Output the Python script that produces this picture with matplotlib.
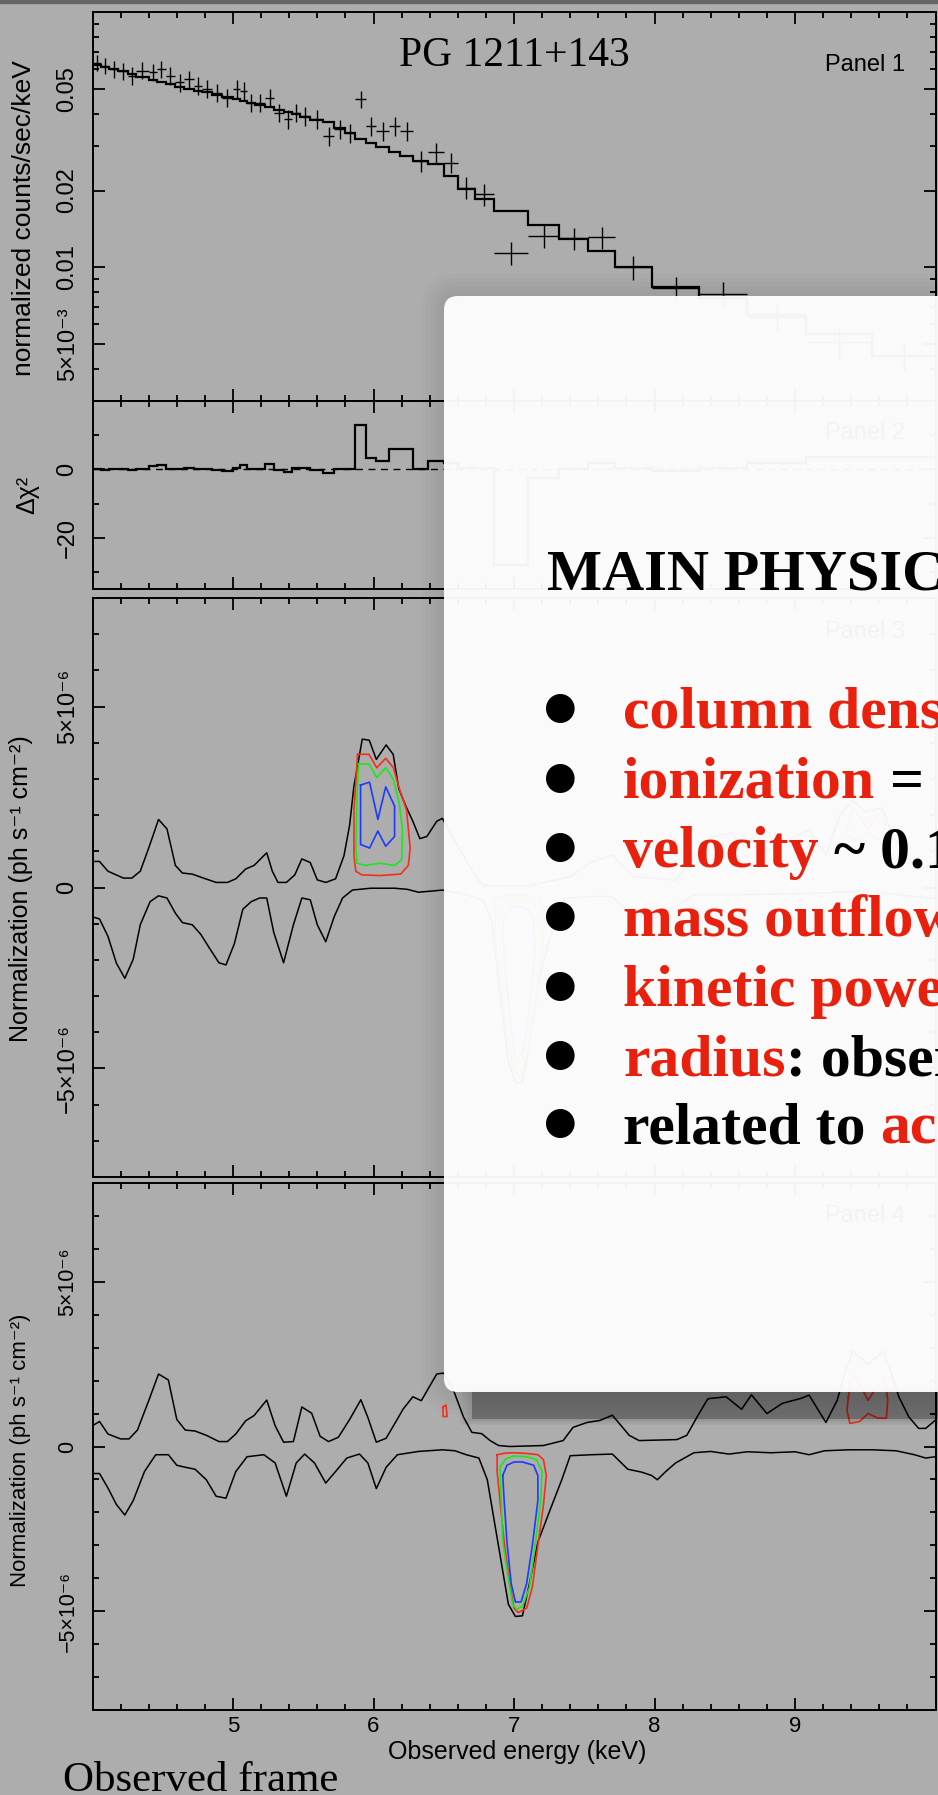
import numpy as np
import matplotlib
matplotlib.use("Agg")
from matplotlib import pyplot as plt
from matplotlib.patches import FancyBboxPatch, Rectangle
from matplotlib.ticker import FixedLocator, FixedFormatter, MultipleLocator, NullFormatter

# ---------------- panel 1 : spectrum ----------------
bin_edges = [4.00, 4.06, 4.12, 4.18, 4.25, 4.31, 4.40, 4.46, 4.52, 4.59, 4.65, 4.72, 4.78,
             4.85, 4.92, 5.00, 5.05, 5.10, 5.16, 5.23, 5.29, 5.36, 5.42, 5.48, 5.55, 5.64,
             5.72, 5.80, 5.87, 5.95, 6.02, 6.11, 6.19, 6.28, 6.39, 6.50, 6.60, 6.72, 6.86,
             7.10, 7.32, 7.53, 7.72, 7.98, 8.32, 8.66, 9.08, 9.55, 10.0]
flux = [0.0634, 0.0615, 0.0597, 0.0588, 0.0562, 0.0590, 0.0580, 0.0597, 0.0562, 0.0530,
        0.0546, 0.0514, 0.0500, 0.0484, 0.0462, 0.0500, 0.0491, 0.0442, 0.0442, 0.0462,
        0.0404, 0.0380, 0.0404, 0.0392, 0.0380, 0.0327, 0.0348, 0.0337, 0.0456, 0.0358,
        0.0342, 0.0358, 0.0342, 0.0261, 0.0282, 0.0257, 0.0205, 0.0193, 0.0114, 0.0133,
        0.0130, 0.0131, 0.0100, 0.0083, 0.0079, 0.0064, 0.0051, 0.0045]
flux_err = [0.0045, 0.0045, 0.0045, 0.0045, 0.0045, 0.0045, 0.0045, 0.0045, 0.0045, 0.0042,
            0.0042, 0.0042, 0.0040, 0.0040, 0.0038, 0.0040, 0.0040, 0.0036, 0.0036, 0.0037,
            0.0034, 0.0032, 0.0034, 0.0033, 0.0032, 0.0029, 0.0030, 0.0029, 0.0036, 0.0030,
            0.0029, 0.0030, 0.0029, 0.0024, 0.0025, 0.0023, 0.0020, 0.0019, 0.0012, 0.0014,
            0.0013, 0.0013, 0.0011, 0.0009, 0.0009, 0.0008, 0.0007, 0.0006]
model = [0.0621, 0.0610, 0.0597, 0.0585, 0.0570, 0.0557, 0.0544, 0.0532, 0.0521, 0.0510,
         0.0501, 0.0491, 0.0485, 0.0475, 0.0465, 0.0457, 0.0448, 0.0441, 0.0431, 0.0423,
         0.0414, 0.0405, 0.0397, 0.0388, 0.0379, 0.0370, 0.0353, 0.0337, 0.0318, 0.0308,
         0.0295, 0.0284, 0.0273, 0.0262, 0.0253, 0.0228, 0.0202, 0.0185, 0.0166, 0.0147,
         0.0129, 0.0116, 0.0100, 0.0084, 0.0076, 0.0065, 0.0055, 0.0045]

# ---------------- panel 2 : delta chi^2 ----------------
dchi = [0.2, -0.1, 0.2, 0.2, -0.3, 0.2, 0.9, 1.2, 0.2, 0.0, 0.5, 0.2, 0.2, -0.1, -0.6, 0.5,
        1.4, 0.2, 0.2, 1.7, -0.1, -0.8, 0.5, 0.3, -0.1, -1.0, 0.2, 0.2, 13.1, 3.3, 2.5, 5.9,
        5.9, 0.0, 2.4, 1.8, 0.3, 0.3, -28.0, -2.4, 0.0, 1.8, 0.3, -0.6, 0.3, 1.8, 3.5, 3.5]

# ---------------- panel 3 : line scan (units 1e-6 ph/s/cm2) ----------------
p3_up_e = [4.00, 4.05, 4.11, 4.22, 4.28, 4.34, 4.40, 4.47, 4.53, 4.59, 4.64, 4.71, 4.79, 4.88,
           4.96, 5.02, 5.09, 5.15, 5.24, 5.28, 5.32, 5.38, 5.44, 5.49, 5.55, 5.60, 5.66, 5.73,
           5.79, 5.83, 5.86, 5.92, 5.97, 6.02, 6.09, 6.14, 6.18, 6.23, 6.28, 6.33, 6.38, 6.45,
           6.49, 6.55, 6.71, 6.78, 7.11, 7.40, 7.55, 7.70, 7.85, 8.15, 8.30, 8.40, 8.55, 8.65,
           8.72, 8.80, 8.95, 9.10, 9.22, 9.32, 9.41, 9.50, 9.62, 9.70, 9.80, 9.90, 10.0]
p3_up_n = [0.72, 0.72, 0.45, 0.26, 0.26, 0.45, 1.09, 1.88, 1.62, 0.61, 0.40, 0.37, 0.26, 0.14,
           0.14, 0.24, 0.51, 0.61, 0.96, 0.45, 0.14, 0.14, 0.35, 0.79, 0.69, 0.21, 0.14, 0.24,
           0.88, 1.72, 2.78, 4.10, 4.07, 3.54, 3.94, 3.68, 2.73, 2.25, 1.83, 1.35, 1.41, 1.83,
           1.91, 1.50, 0.41, 0.05, 0.05, 0.30, 0.70, 0.90, 0.30, 0.20, 0.90, 1.40, 1.50, 1.10,
           1.50, 1.00, 1.30, 1.60, 0.90, 2.00, 2.40, 2.10, 2.20, 1.40, 0.80, 0.50, 0.70]
p3_lo_e = [4.00, 4.05, 4.11, 4.17, 4.23, 4.29, 4.34, 4.41, 4.47, 4.53, 4.59, 4.64, 4.71, 4.77,
           4.83, 4.90, 4.95, 5.01, 5.07, 5.13, 5.19, 5.24, 5.29, 5.36, 5.43, 5.49, 5.55, 5.60,
           5.66, 5.72, 5.78, 5.85, 5.98, 6.15, 6.24, 6.32, 6.41, 6.49, 6.66, 6.78, 6.84, 6.90,
           6.96, 7.01, 7.06, 7.11, 7.18, 7.27, 7.36, 7.55, 7.70, 7.82, 7.98, 8.08, 8.28, 8.60,
           9.00, 9.20, 9.50, 9.85, 10.0]
p3_lo_n = [-0.81, -0.87, -1.35, -2.09, -2.51, -1.98, -1.03, -0.39, -0.23, -0.29, -0.71, -0.97,
           -1.03, -1.29, -1.66, -2.08, -2.14, -1.55, -0.60, -0.39, -0.29, -0.29, -1.24, -2.08,
           -1.03, -0.29, -0.34, -1.03, -1.50, -0.81, -0.29, -0.07, -0.02, -0.02, -0.05, -0.13,
           -0.10, -0.07, -0.20, -0.35, -0.90, -2.90, -4.80, -5.40, -5.40, -4.30, -2.50, -1.20,
           -0.30, -0.25, -0.25, -0.70, -0.90, -0.70, -0.20, -0.20, -0.17, -0.15, -0.10, -0.25,
           -0.30]
# confidence contours (red 68%, green 90%, blue 99%)
p3_red_e = [5.887, 5.968, 6.023, 6.087, 6.142, 6.184, 6.235, 6.261, 6.248, 6.193, 6.044, 5.917,
            5.874, 5.861, 5.861]
p3_red_n = [3.68, 3.68, 3.31, 3.57, 3.31, 2.73, 2.15, 1.09, 0.61, 0.37, 0.33, 0.35, 0.45, 0.88,
            2.15]
p3_grn_e = [5.895, 5.968, 6.023, 6.087, 6.142, 6.184, 6.206, 6.201, 6.150, 6.044, 5.938, 5.883,
            5.874, 5.883]
p3_grn_n = [3.41, 3.41, 3.04, 3.31, 2.99, 2.30, 1.62, 0.77, 0.61, 0.67, 0.61, 0.67, 1.09, 2.57]
p3_blu_e = [5.908, 5.972, 6.031, 6.087, 6.150, 6.150, 6.087, 6.031, 5.972, 5.908]
p3_blu_n = [2.83, 2.91, 1.88, 2.78, 2.25, 1.41, 1.14, 1.56, 1.09, 1.19]
p3_red2_e = [6.86, 6.92, 7.00, 7.10, 7.18, 7.22, 7.20, 7.15, 7.10, 7.05, 7.00, 6.96, 6.91, 6.87]
p3_red2_n = [-0.30, -0.22, -0.20, -0.22, -0.30, -0.80, -1.80, -3.20, -4.50, -5.20, -5.10, -4.30,
             -3.00, -1.60]
p3_grn2_e = [6.89, 6.95, 7.02, 7.10, 7.16, 7.19, 7.17, 7.12, 7.07, 7.02, 6.98, 6.93, 6.90]
p3_grn2_n = [-0.50, -0.32, -0.30, -0.34, -0.50, -1.00, -2.20, -3.60, -4.70, -5.00, -4.50, -3.20,
             -1.60]
p3_blu2_e = [6.92, 6.97, 7.03, 7.10, 7.14, 7.15, 7.11, 7.06, 7.01, 6.97, 6.93]
p3_blu2_n = [-0.90, -0.58, -0.52, -0.62, -0.90, -1.80, -3.40, -4.60, -4.70, -3.60, -1.90]
p3_red3_e = [9.37, 9.41, 9.47, 9.52, 9.57, 9.62, 9.64, 9.60, 9.52, 9.44, 9.38]
p3_red3_n = [1.60, 2.20, 1.90, 1.60, 1.90, 2.10, 1.70, 1.30, 1.50, 1.30, 1.40]

# ---------------- panel 4 : line scan (units 1e-6 ph/s/cm2) ----------------
p4_up_e = [4.00, 4.05, 4.11, 4.20, 4.26, 4.32, 4.40, 4.47, 4.54, 4.60, 4.66, 4.73, 4.81, 4.90,
           4.96, 5.02, 5.09, 5.15, 5.24, 5.30, 5.36, 5.43, 5.49, 5.56, 5.62, 5.68, 5.75, 5.83,
           5.91, 5.96, 6.02, 6.09, 6.16, 6.21, 6.28, 6.34, 6.45, 6.50, 6.57, 6.64, 6.70, 6.77,
           6.83, 6.89, 6.97, 7.21, 7.35, 7.42, 7.52, 7.61, 7.70, 7.82, 7.89, 8.16, 8.23, 8.31,
           8.38, 8.51, 8.62, 8.69, 8.80, 8.91, 9.05, 9.10, 9.22, 9.30, 9.36, 9.41, 9.52, 9.63,
           9.68, 9.74, 9.81, 9.88, 9.93, 10.0]
p4_up_n = [0.63, 0.76, 0.38, 0.23, 0.23, 0.50, 1.39, 2.20, 2.02, 0.82, 0.50, 0.47, 0.34, 0.15,
           0.15, 0.38, 0.78, 0.94, 1.41, 0.63, 0.13, 0.15, 1.20, 1.01, 0.31, 0.15, 0.28, 0.82,
           1.42, 0.88, 0.13, 0.25, 0.76, 1.13, 1.51, 1.39, 2.20, 2.23, 1.70, 0.90, 0.43, 0.39,
           0.18, 0.03, 0.00, 0.03, 0.18, 0.58, 0.73, 0.79, 0.95, 0.34, 0.18, 0.21, 0.34, 0.95,
           1.45, 1.51, 1.13, 1.57, 1.00, 1.31, 1.47, 1.56, 0.73, 1.40, 2.30, 2.90, 2.50, 2.90,
           2.30, 1.50, 0.90, 0.55, 0.55, 0.80]
p4_lo_e = [4.00, 4.05, 4.11, 4.17, 4.23, 4.29, 4.37, 4.45, 4.54, 4.60, 4.66, 4.73, 4.81, 4.88,
           4.95, 5.02, 5.10, 5.22, 5.30, 5.38, 5.45, 5.51, 5.58, 5.66, 5.73, 5.81, 5.90, 5.96,
           6.02, 6.09, 6.17, 6.32, 6.49, 6.58, 6.66, 6.75, 6.81, 6.85, 6.91, 6.96, 7.01, 7.06,
           7.11, 7.17, 7.26, 7.34, 7.40, 7.55, 7.70, 7.81, 7.91, 7.98, 8.02, 8.08, 8.15, 8.28,
           8.40, 8.53, 8.66, 8.83, 9.00, 9.10, 9.21, 9.38, 9.55, 9.72, 9.85, 9.93, 10.0]
p4_lo_n = [-0.82, -0.82, -1.26, -1.76, -2.08, -1.64, -0.76, -0.25, -0.25, -0.57, -0.63, -0.69,
           -1.01, -1.51, -1.57, -0.76, -0.31, -0.25, -0.50, -1.51, -0.50, -0.23, -0.50, -1.11,
           -0.76, -0.35, -0.23, -0.50, -1.28, -0.63, -0.25, -0.15, -0.10, -0.13, -0.25, -0.35,
           -1.01, -2.02, -3.53, -4.79, -5.16, -5.14, -4.16, -2.90, -1.89, -1.01, -0.28, -0.25,
           -0.23, -0.69, -0.78, -0.88, -1.01, -0.76, -0.50, -0.19, -0.15, -0.23, -0.16, -0.19,
           -0.16, -0.25, -0.13, -0.10, -0.10, -0.13, -0.25, -0.35, -0.31]
p4_red_e = [6.88, 6.94, 7.00, 7.09, 7.17, 7.21, 7.23, 7.21, 7.17, 7.13, 7.09, 7.03, 7.00, 6.97,
            6.93, 6.90, 6.88]
p4_red_n = [-0.25, -0.20, -0.19, -0.21, -0.25, -0.40, -0.88, -1.76, -3.02, -4.28, -4.91, -5.04,
            -4.91, -4.16, -2.90, -1.64, -0.76]
p4_grn_e = [6.90, 6.94, 7.00, 7.09, 7.16, 7.20, 7.19, 7.15, 7.11, 7.06, 7.02, 6.99, 6.96, 6.92,
            6.91]
p4_grn_n = [-0.63, -0.38, -0.29, -0.31, -0.40, -0.76, -1.64, -3.02, -4.28, -4.85, -4.94, -4.79,
            -4.03, -2.90, -1.64]
p4_blu_e = [6.92, 6.95, 7.00, 7.06, 7.14, 7.17, 7.17, 7.13, 7.09, 7.05, 7.01, 6.98, 6.95, 6.93]
p4_blu_n = [-0.88, -0.57, -0.47, -0.47, -0.57, -0.88, -1.64, -3.02, -4.16, -4.72, -4.72, -4.16,
            -2.90, -1.64]
p4_red2_e = [6.495, 6.516, 6.524, 6.495]
p4_red2_n = [1.20, 1.26, 0.91, 0.91]
p4_red3_e = [9.38, 9.40, 9.46, 9.52, 9.58, 9.64, 9.66, 9.65, 9.59, 9.52, 9.46, 9.39, 9.37]
p4_red3_n = [1.50, 2.20, 1.90, 1.40, 1.80, 2.10, 1.40, 0.86, 0.86, 1.00, 0.76, 0.70, 1.10]

panel_names = ["Panel 1", "Panel 2", "Panel 3", "Panel 4"]

# slide text in the white box
slide_title = "MAIN PHYSIC"
slide_lines = [
    [("column dens", "red")],
    [("ionization", "red"), (" = 1", "black")],
    [("velocity", "red"), (" ~ 0.1", "black")],
    [("mass outflow", "red")],
    [("kinetic powe", "red")],
    [("radius", "red"), (": obser", "black")],
    [("related to ", "black"), ("acc", "red")],
]

# ---------------- layout ----------------
W, H = 938, 1795
GRAY = '#adadad'
RED = '#e8210f'
C_RED, C_GRN, C_BLU = '#f2301b', '#1ee61e', '#1a3cff'
SANS = ['Liberation Sans', 'DejaVu Sans']
SERIF = ['Liberation Serif', 'DejaVu Serif']

plt.rcParams['font.family'] = SANS
plt.rcParams['axes.linewidth'] = 1.4


def fx(px):
    return px / W


def fy(py):
    return 1 - py / H


def axes_box(top, bottom):
    return [fx(92.5), fy(bottom), fx(935.5) - fx(92.5), (bottom - top) / H]


fig = plt.figure(figsize=(W / 100, H / 100), dpi=100, facecolor=GRAY)
ax1 = fig.add_axes(axes_box(12, 401))
ax2 = fig.add_axes(axes_box(401, 589))
ax3 = fig.add_axes(axes_box(598, 1177))
ax4 = fig.add_axes(axes_box(1183, 1710))
axes = [ax1, ax2, ax3, ax4]

for ax in axes:
    ax.set_facecolor('none')
    ax.set_xlim(4, 10)
    ax.xaxis.set_major_locator(FixedLocator([5, 6, 7, 8, 9]))
    ax.xaxis.set_minor_locator(MultipleLocator(0.2))
    ax.tick_params(which='both', direction='in', top=True, right=True, width=1.3, colors='k')
    ax.tick_params(which='major', length=8.6)
    ax.tick_params(which='minor', length=4.2)
    ax.tick_params(axis='y', labelrotation=90, pad=10)
    if ax is not ax4:
        ax.tick_params(labelbottom=False)

# panel 1
edges = np.array(bin_edges)
centres = 0.5 * (edges[1:] + edges[:-1])
half_w = 0.5 * (edges[1:] - edges[:-1])
ax1.set_yscale('log')
ax1.set_ylim(0.003, 0.1)
ax1.errorbar(centres, flux, xerr=half_w, yerr=flux_err, fmt='none', ecolor='k', elinewidth=1.0)
ax1.stairs(model, edges, baseline=None, color='k', lw=1.6)
ax1.yaxis.set_major_locator(FixedLocator([0.005, 0.01, 0.02, 0.05]))
ax1.yaxis.set_major_formatter(FixedFormatter(['5×10⁻³', '0.01', '0.02', '0.05']))
ax1.yaxis.set_minor_locator(FixedLocator([0.003, 0.004, 0.006, 0.007, 0.008, 0.009, 0.03,
                                          0.04, 0.06, 0.07, 0.08, 0.09]))
ax1.yaxis.set_minor_formatter(NullFormatter())
ax1.text(0.5, 0.888, "PG 1211+143", transform=ax1.transAxes, ha='center', va='center',
         fontsize=30, family=SERIF)

# panel 2
ax2.set_ylim(-35, 20)
ax2.stairs(dchi, edges, baseline=None, color='k', lw=1.6)
ax2.axhline(0, color='k', lw=1.0, ls=(0, (5, 4)))
ax2.yaxis.set_major_locator(FixedLocator([-20, 0]))
ax2.yaxis.set_major_formatter(FixedFormatter(['−20', '0']))
ax2.yaxis.set_minor_locator(FixedLocator([-30, -10, 10]))

# panels 3 and 4
U = 1e-6


def closed(e, n):
    return np.append(e, e[0]), np.append(n, n[0]) * U


for ax, up_e, up_n, lo_e, lo_n in [(ax3, p3_up_e, p3_up_n, p3_lo_e, p3_lo_n),
                                   (ax4, p4_up_e, p4_up_n, p4_lo_e, p4_lo_n)]:
    ax.set_ylim(-8e-6, 8e-6)
    ax.plot(up_e, np.array(up_n) * U, color='k', lw=1.1)
    ax.plot(lo_e, np.array(lo_n) * U, color='k', lw=1.1)
    ax.yaxis.set_major_locator(FixedLocator([-5e-6, 0, 5e-6]))
    ax.yaxis.set_major_formatter(FixedFormatter(['−5×10⁻⁶', '0', '5×10⁻⁶']))
    ax.yaxis.set_minor_locator(MultipleLocator(1e-6))

contours3 = [(p3_red_e, p3_red_n, C_RED), (p3_grn_e, p3_grn_n, C_GRN), (p3_blu_e, p3_blu_n, C_BLU),
             (p3_red2_e, p3_red2_n, C_RED), (p3_grn2_e, p3_grn2_n, C_GRN),
             (p3_blu2_e, p3_blu2_n, C_BLU), (p3_red3_e, p3_red3_n, C_RED)]
contours4 = [(p4_red_e, p4_red_n, C_RED), (p4_grn_e, p4_grn_n, C_GRN), (p4_blu_e, p4_blu_n, C_BLU),
             (p4_red2_e, p4_red2_n, C_RED), (p4_red3_e, p4_red3_n, C_RED)]
for ax, cset in [(ax3, contours3), (ax4, contours4)]:
    for e, n, c in cset:
        xe, yn = closed(e, n)
        ax.plot(xe, yn, color=c, lw=1.2)

# tick label sizes / alignment
for ax, fs in [(ax1, 17), (ax2, 17), (ax3, 17), (ax4, 15.5)]:
    ax.tick_params(axis='y', labelsize=fs)
    plt.setp(ax.get_yticklabels(), va='center')
ax4.tick_params(axis='x', labelsize=16, pad=4.5)

# panel names
for ax, name, yy in zip(axes, panel_names, [0.864, 0.83, 0.941, 0.937]):
    ax.text(0.964, yy, name, transform=ax.transAxes, ha='right', va='center', fontsize=17)

# axis labels
fig.text(fx(24), fy(218), "normalized counts/sec/keV", rotation=90, ha='center', va='center',
         fontsize=19)
fig.text(fx(27), fy(495), "Δχ²", rotation=90, ha='center', va='center', fontsize=18)
fig.text(fx(21), fy(889), "Normalization (ph s⁻¹ cm⁻²)", rotation=90, ha='center',
         va='center', fontsize=18)
fig.text(fx(21), fy(1450), "Normalization (ph s⁻¹ cm⁻²)", rotation=90, ha='center',
         va='center', fontsize=16)
fig.text(fx(517), fy(1752), "Observed energy (keV)", ha='center', va='center', fontsize=18)
fig.text(fx(63), fy(1791), "Observed frame", ha='left', va='baseline', fontsize=31,
         family=SERIF)

# dark strip at the very top of the screenshot
fig.add_artist(Rectangle((0, fy(3)), 1, 3 / H, transform=fig.transFigure, color='#666666',
                         zorder=2))

# white slide box with soft halo and drop shadow (inch coordinates)
bx0, by0, bw, bh = 4.44, 4.03, 5.6, 10.96
for k in range(1, 6):
    d = 0.045 * k
    fig.add_artist(FancyBboxPatch((bx0 - d, by0 - d), bw + d, bh + 2 * d,
                                  boxstyle=f"round,pad=0,rounding_size={0.14 + d}",
                                  transform=fig.dpi_scale_trans, fc='k', ec='none',
                                  alpha=0.015, zorder=3))
fig.add_artist(Rectangle((4.72, 3.76), 5.0, 0.31, transform=fig.dpi_scale_trans, fc='k',
                         ec='none', alpha=0.28, zorder=4))
for k in range(1, 5):
    d = 0.03 * k
    fig.add_artist(Rectangle((4.72 - d, 3.76 - 0.5 * d), 5.0, 0.31 + 0.5 * d,
                             transform=fig.dpi_scale_trans, fc='k', ec='none', alpha=0.03,
                             zorder=4))
fig.add_artist(FancyBboxPatch((bx0, by0), bw, bh, boxstyle="round,pad=0,rounding_size=0.14",
                              transform=fig.dpi_scale_trans, fc='white', ec='none',
                              alpha=0.955, zorder=5))

# slide text
fig.text(fx(547), fy(590), slide_title, ha='left', va='baseline', fontsize=42,
         fontweight='bold', family=SERIF, zorder=6)
colour_map = {"red": RED, "black": "black"}
baselines = [728, 798, 867, 936, 1006, 1075, 1143]
line_style = dict(ha='left', va='baseline', fontsize=43, fontweight='bold', family=SERIF,
                  zorder=6)
renderer = fig.canvas.get_renderer()


def text_width(s):
    t = fig.text(0, 0, s, **line_style)
    w = t.get_window_extent(renderer).width
    t.remove()
    return w


for segs, base in zip(slide_lines, baselines):
    fig.text(fx(560), fy(base - 20), "●", ha='center', va='center', fontsize=27,
             family=['DejaVu Sans'], zorder=6)
    so_far = ""
    for k, (seg, col) in enumerate(segs):
        so_far += seg
        core = seg.lstrip()
        offset = 0.0 if k == 0 else text_width(so_far) - text_width(core)
        fig.text(fx(623 + offset), fy(base), core, color=colour_map[col], **line_style)

fig.savefig("out.png", dpi=100, facecolor=GRAY)
